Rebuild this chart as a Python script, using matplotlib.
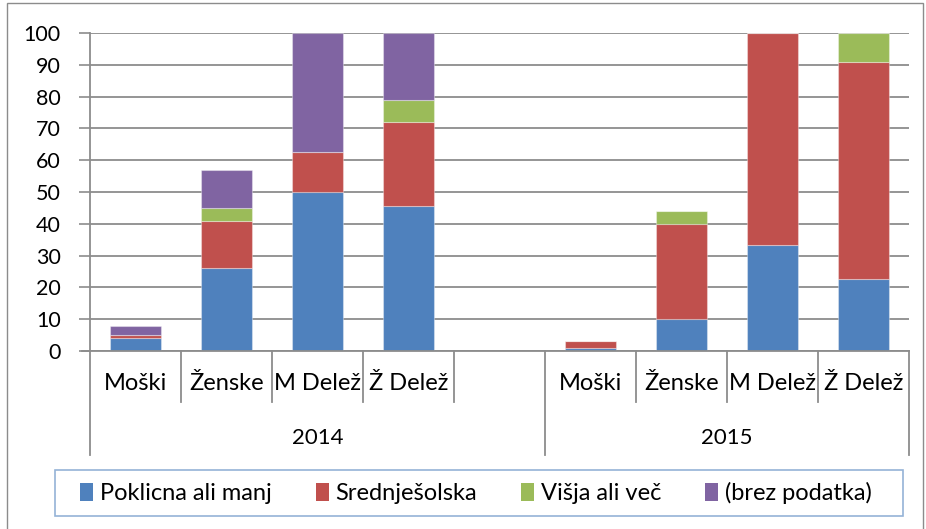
import matplotlib
matplotlib.use("Agg")
import matplotlib.pyplot as plt
import matplotlib.transforms as mtransforms
from matplotlib.patches import Rectangle, Patch
from matplotlib.lines import Line2D
import numpy as np

plt.rcParams['font.family'] = ['Lato', 'DejaVu Sans']

categories = ["Moški", "Ženske", "M Delež", "Ž Delež", "", "Moški", "Ženske", "M Delež", "Ž Delež"]
groups = ["2014", "2015"]
group_sizes = [5, 4]
series_names = ["Poklicna ali manj", "Srednješolska", "Višja ali več", "(brez podatka)"]
poklicna = [4, 26, 50.0, 45.6, 0, 1, 10, 33.3, 22.7]
srednje = [1, 15, 12.5, 26.3, 0, 2, 30, 66.7, 68.2]
visja = [0, 4, 0.0, 7.0, 0, 0, 4, 0.0, 9.1]
brez = [3, 12, 37.5, 21.1, 0, 0, 0, 0.0, 0.0]
colors = ["#4F81BD", "#C0504D", "#9BBB59", "#8064A2"]
yticks = [0, 10, 20, 30, 40, 50, 60, 70, 80, 90, 100]

W, H = 926, 529
fig = plt.figure(figsize=(W / 100, H / 100), dpi=100)

def fx(px):
    return px / W

def fy(py):
    return 1 - py / H

# outer chart border
fig.add_artist(Rectangle((fx(7), fy(540)), fx(923) - fx(7), fy(3) - fy(540),
                         transform=fig.transFigure, fill=False,
                         edgecolor="#8c8c8c", linewidth=1.0))

ax_l, ax_r, ax_t, ax_b = 90, 909, 33, 351
ax = fig.add_axes([fx(ax_l), fy(ax_b), fx(ax_r) - fx(ax_l), fy(ax_t) - fy(ax_b)])

x = np.arange(len(categories))
bottom = np.zeros(len(categories))
for vals, c, name in zip([poklicna, srednje, visja, brez], colors, series_names):
    v = np.array(vals, dtype=float)
    ax.bar(x, v, bottom=bottom, width=0.56, color=c, edgecolor=(1, 1, 1, 0.35),
           linewidth=0.8, label=name, zorder=3)
    bottom += v

ax.set_xlim(-0.5, len(categories) - 0.5)
ax.set_ylim(0, 100)
ax.set_yticks(yticks)
ax.set_yticklabels([str(t) for t in yticks], fontsize=15.5)
ax.tick_params(axis='y', length=8, width=1.2, color="#8c8c8c", pad=13)
ax.set_xticks([])
ax.yaxis.grid(True, color="#8c8c8c", linewidth=1.3, zorder=0)
ax.set_axisbelow(True)
for s in ["top", "right"]:
    ax.spines[s].set_visible(False)
ax.spines["left"].set_color("#8c8c8c")
ax.spines["left"].set_linewidth(1.3)
ax.spines["bottom"].set_color("#8c8c8c")
ax.spines["bottom"].set_linewidth(1.3)
ax.spines["bottom"].set_zorder(4)

trans = mtransforms.blended_transform_factory(ax.transData, ax.transAxes)
ax_h = ax_b - ax_t
cat_sep_y = -(402 - ax_b) / ax_h
grp_sep_y = -(455 - ax_b) / ax_h
cat_lab_y = -(384 - ax_b) / ax_h
grp_lab_y = -(438 - ax_b) / ax_h

# group boundaries
bounds = [-0.5]
for g in group_sizes:
    bounds.append(bounds[-1] + g)
for i in range(len(categories) + 1):
    xb = i - 0.5
    ylow = grp_sep_y if xb in bounds else cat_sep_y
    ax.add_line(Line2D([xb, xb], [0, ylow], transform=trans, color="#8c8c8c",
                       linewidth=1.3, clip_on=False))
# extend x axis line to left tick
ax.add_line(Line2D([-0.5 - 8 / 91, -0.5], [0, 0], transform=trans, color="#8c8c8c",
                   linewidth=1.3, clip_on=False))

for xi, lab in zip(x, categories):
    ax.text(xi, cat_lab_y, lab, transform=trans, ha="center", va="center", fontsize=17)
for gi, g in enumerate(groups):
    cx = (bounds[gi] + bounds[gi + 1]) / 2
    ax.text(cx, grp_lab_y, g, transform=trans, ha="center", va="center", fontsize=16)

# legend frame
fig.add_artist(Rectangle((fx(55), fy(516)), fx(903) - fx(55), fy(470) - fy(516),
                         transform=fig.transFigure, fill=False,
                         edgecolor="#95B3D7", linewidth=1.2))
handles = [Patch(facecolor=c, edgecolor="none") for c in colors]
leg = fig.legend(handles, series_names, loc="center",
                 bbox_to_anchor=(fx(80), fy(513), fx(872) - fx(80), fy(473) - fy(513)),
                 mode="expand", ncol=4, fontsize=17, frameon=False,
                 handlelength=0.55, handleheight=0.8, handletextpad=0.3,
                 columnspacing=1.0, borderaxespad=0, borderpad=0)

fig.savefig("out.png", dpi=100)
